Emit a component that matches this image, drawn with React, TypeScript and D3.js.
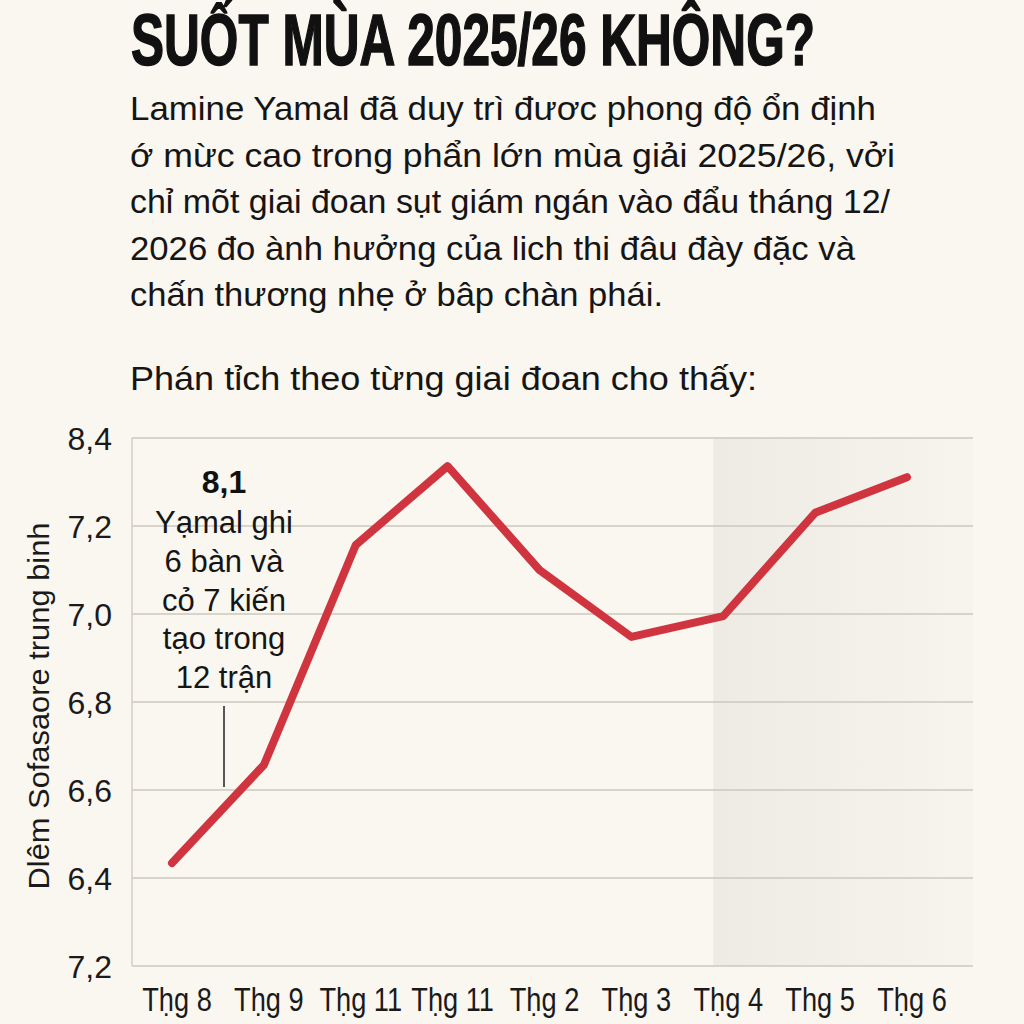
import React, { useEffect, useRef } from "react";
import * as d3 from "d3";

const titleText = "SUỐT MÙA 2025/26 KHÔNG?";
const bodyLines = [
  "Lamine Yamal đã duy trì đươc phong độ ổn định",
  "ớ mừc cao trong phẩn lớn mùa giải 2025/26, vởi",
  "chỉ mõt giai đoan sụt giám ngán vào đẩu tháng 12/",
  "2026 đo ành hưởng của lich thi đâu đày đặc và",
  "chấn thương nhẹ ở bâp chàn phái.",
];
const bodyWidths = [746, 765, 760, 725, 533];
const subText = "Phán tỉch theo từng giai đoan cho thấy:";
const yAxisTitle = "Dlêm Sofasaore trung binh";

const months = ["Tḥg 8", "Tḥg 9", "Tḥg 11", "Tḥg 11", "Tḥg 2", "Tḥg 3", "Tḥg 4", "Thg 5", "Tḥg 6"];
const scores = [6.434, 6.657, 7.157, 7.336, 7.1, 6.948, 6.995, 7.23, 7.311];
const yTickValues = [6.2, 6.4, 6.6, 6.8, 7.0, 7.2, 7.4];
const yTickLabels = ["7,2", "6,4", "6,6", "6,8", "7,0", "7,2", "8,4"];
const shadeStartIndex = 6;
const annotationValue = "8,1";
const annotationLines = ["Yạmal ghi", "6 bàn và", "cỏ 7 kiến", "tạo trong", "12 trận"];

const BG = "#faf6f0";
const RED = "#d0343f";

export default function App() {
  const ref = useRef<SVGSVGElement | null>(null);

  useEffect(() => {
    document.body.style.margin = "0";
    const svg = d3.select(ref.current);
    svg.selectAll("*").remove();

    const W = 1024, H = 1024;
    svg.append("rect").attr("width", W).attr("height", H).attr("fill", BG);

    const bodyFont = "'Liberation Sans', Arial, sans-serif";

    // Title
    svg.append("text")
      .attr("x", 131).attr("y", 65)
      .attr("font-family", bodyFont)
      .attr("font-weight", 700).attr("font-size", 73)
      .attr("textLength", 684).attr("lengthAdjust", "spacingAndGlyphs")
      .attr("fill", "#111").attr("stroke", "#111").attr("stroke-width", 1.6)
      .text(titleText);

    // Body
    bodyLines.forEach((l, i) => {
      svg.append("text")
        .attr("x", 130).attr("y", 120 + i * 46.5)
        .attr("font-family", bodyFont).attr("font-size", 34)
        .attr("textLength", bodyWidths[i]).attr("lengthAdjust", "spacingAndGlyphs")
        .attr("fill", "#151515").text(l);
    });
    svg.append("text")
      .attr("x", 130).attr("y", 390)
      .attr("font-family", bodyFont).attr("font-size", 34)
      .attr("textLength", 627).attr("lengthAdjust", "spacingAndGlyphs")
      .attr("fill", "#151515").text(subText);

    // Chart
    const left = 132, right = 973, top = 438, bottom = 966;
    const x = d3.scalePoint<number>().domain(d3.range(months.length)).range([172, 907]);
    const y = d3.scaleLinear().domain([6.2, 7.4]).range([bottom, top]);

    const defs = svg.append("defs");
    const grad = defs.append("linearGradient").attr("id", "shade").attr("x1", "0").attr("x2", "1");
    grad.append("stop").attr("offset", "0").attr("stop-color", "#eeeae4");
    grad.append("stop").attr("offset", "1").attr("stop-color", "#f7f3ed");

    const xs = x(shadeStartIndex)! - 10;
    svg.append("rect")
      .attr("x", xs).attr("y", top)
      .attr("width", right - xs).attr("height", bottom - top)
      .attr("fill", "url(#shade)");

    const g = svg.append("g");
    g.selectAll("line.grid").data(yTickValues).join("line")
      .attr("class", "grid")
      .attr("x1", left).attr("x2", right)
      .attr("y1", (d) => y(d)).attr("y2", (d) => y(d))
      .attr("stroke", "#cdc8c0").attr("stroke-width", 1.3);

    g.append("line")
      .attr("x1", left).attr("x2", left).attr("y1", top).attr("y2", bottom)
      .attr("stroke", "#cdc8c0").attr("stroke-width", 1.3);

    g.selectAll("text.ytick").data(yTickValues).join("text")
      .attr("class", "ytick")
      .attr("x", 112).attr("y", (d) => y(d))
      .attr("dy", "0.36em").attr("text-anchor", "end")
      .attr("font-family", bodyFont).attr("font-size", 32)
      .attr("fill", "#1a1a1a")
      .text((_d, i) => yTickLabels[i]);

    svg.append("text")
      .attr("transform", `translate(49, 706) rotate(-90)`)
      .attr("text-anchor", "middle")
      .attr("font-family", bodyFont).attr("font-size", 29)
      .attr("textLength", 367).attr("lengthAdjust", "spacingAndGlyphs")
      .attr("fill", "#1a1a1a").text(yAxisTitle);

    const xl = g.selectAll("text.xtick").data(months).join("text")
      .attr("class", "xtick")
      .attr("x", (_d, i) => x(i)! + 5).attr("y", 1011)
      .attr("text-anchor", "middle")
      .attr("font-family", bodyFont)
      .attr("font-size", 34)
      .attr("fill", "#1a1a1a")
      .text((d) => d);
    xl.each(function () {
      const el = this as SVGTextElement;
      const len = el.getComputedTextLength();
      el.setAttribute("textLength", String(len * 0.8));
      el.setAttribute("lengthAdjust", "spacingAndGlyphs");
    });

    const line = d3.line<number>().x((_d, i) => x(i)!).y((d) => y(d));
    g.append("path")
      .datum(scores)
      .attr("d", line)
      .attr("fill", "none")
      .attr("stroke", RED).attr("stroke-width", 8)
      .attr("stroke-linecap", "round").attr("stroke-linejoin", "round");

    // Annotation
    const ax = 224;
    g.append("text")
      .attr("x", ax).attr("y", 493).attr("text-anchor", "middle")
      .attr("font-family", bodyFont).attr("font-size", 32).attr("font-weight", 700)
      .attr("fill", "#111").text(annotationValue);
    annotationLines.forEach((l, i) => {
      g.append("text")
        .attr("x", ax).attr("y", 533 + i * 38.8).attr("text-anchor", "middle")
        .attr("font-family", bodyFont).attr("font-size", 31)
        .attr("fill", "#151515").text(l);
    });
    g.append("line")
      .attr("x1", ax).attr("x2", ax).attr("y1", 706).attr("y2", 787)
      .attr("stroke", "#222").attr("stroke-width", 1.5);
  }, []);

  return <svg ref={ref} width={1024} height={1024} style={{ display: "block" }} />;
}
